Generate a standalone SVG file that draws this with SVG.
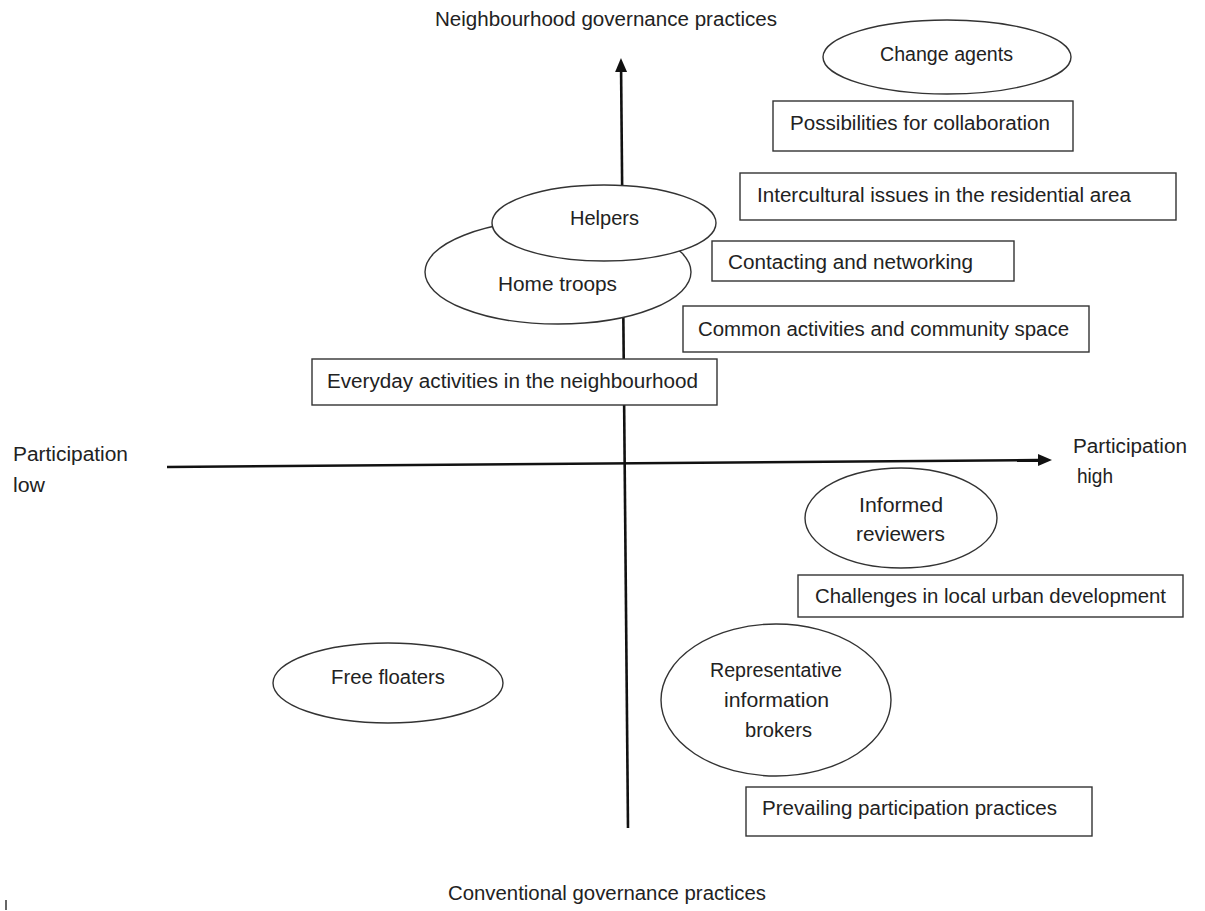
<svg xmlns="http://www.w3.org/2000/svg" width="1205" height="911" viewBox="0 0 1205 911">
<style>
  text { font-family: "Liberation Sans", Arial, sans-serif; font-size: 19.5px; fill: #222; }
  .shape { fill: #fff; stroke: #333; stroke-width: 1.4; }
  .axis { stroke: #111; stroke-width: 2.6; fill: none; }
</style>
<defs>
  <marker id="arrow" markerUnits="userSpaceOnUse" markerWidth="15" markerHeight="13" viewBox="0 -6.5 15 13" refX="0" refY="0" orient="auto">
    <path d="M0,-6 L14,0 L0,6 z" fill="#111"/>
  </marker>
</defs>
<rect x="0" y="0" width="1205" height="911" fill="#fff"/>

<g id="connectors">
  <line class="axis" x1="628" y1="828" x2="621.1" y2="72" marker-end="url(#arrow)"/>
  <line class="axis" x1="167" y1="467" x2="1038" y2="460.1" marker-end="url(#arrow)"/>
</g>

<g id="axis-labels">
  <text x="435" y="26" textLength="342" lengthAdjust="spacingAndGlyphs">Neighbourhood governance practices</text>
  <text x="448" y="900" textLength="318" lengthAdjust="spacingAndGlyphs">Conventional governance practices</text>
  <text x="13" y="461" textLength="115" lengthAdjust="spacingAndGlyphs">Participation</text>
  <text x="13" y="492" textLength="32" lengthAdjust="spacingAndGlyphs">low</text>
  <text x="1073" y="453" textLength="114" lengthAdjust="spacingAndGlyphs">Participation</text>
  <text x="1077" y="483" textLength="36" lengthAdjust="spacingAndGlyphs">high</text>
</g>

<g id="change-agents">
  <ellipse class="shape" cx="947" cy="57" rx="124" ry="37"/>
  <text x="880" y="61" textLength="133" lengthAdjust="spacingAndGlyphs">Change agents</text>
</g>
<g id="possibilities">
  <rect class="shape" x="773" y="101" width="300" height="50"/>
  <text x="790" y="130" textLength="260" lengthAdjust="spacingAndGlyphs">Possibilities for collaboration</text>
</g>
<g id="intercultural">
  <rect class="shape" x="740" y="173" width="436" height="47"/>
  <text x="757" y="202" textLength="374" lengthAdjust="spacingAndGlyphs">Intercultural issues in the residential area</text>
</g>
<g id="home-troops">
  <ellipse class="shape" cx="558" cy="272" rx="133" ry="52"/>
  <text x="498" y="291" textLength="119" lengthAdjust="spacingAndGlyphs">Home troops</text>
</g>
<g id="helpers">
  <ellipse class="shape" cx="604" cy="223" rx="112" ry="38"/>
  <text x="570" y="225" textLength="69" lengthAdjust="spacingAndGlyphs">Helpers</text>
</g>
<g id="contacting">
  <rect class="shape" x="712" y="241" width="302" height="40"/>
  <text x="728" y="269" textLength="245" lengthAdjust="spacingAndGlyphs">Contacting and networking</text>
</g>
<g id="common">
  <rect class="shape" x="683" y="306" width="406" height="46"/>
  <text x="698" y="336" textLength="371" lengthAdjust="spacingAndGlyphs">Common activities and community space</text>
</g>
<g id="everyday">
  <rect class="shape" x="312" y="359" width="405" height="46"/>
  <text x="327" y="388" textLength="371" lengthAdjust="spacingAndGlyphs">Everyday activities in the neighbourhood</text>
</g>
<g id="informed-reviewers">
  <ellipse class="shape" cx="901" cy="518" rx="96" ry="50"/>
  <text x="859" y="512" textLength="84" lengthAdjust="spacingAndGlyphs">Informed</text>
  <text x="856" y="541" textLength="89" lengthAdjust="spacingAndGlyphs">reviewers</text>
</g>
<g id="challenges">
  <rect class="shape" x="798" y="575" width="385" height="42"/>
  <text x="815" y="603" textLength="351" lengthAdjust="spacingAndGlyphs">Challenges in local urban development</text>
</g>
<g id="free-floaters">
  <ellipse class="shape" cx="388" cy="683" rx="115" ry="40"/>
  <text x="331" y="684" textLength="114" lengthAdjust="spacingAndGlyphs">Free floaters</text>
</g>
<g id="representative-brokers">
  <ellipse class="shape" cx="776" cy="700" rx="115" ry="76"/>
  <text x="710" y="677" textLength="132" lengthAdjust="spacingAndGlyphs">Representative</text>
  <text x="724" y="707" textLength="105" lengthAdjust="spacingAndGlyphs">information</text>
  <text x="745" y="737" textLength="67" lengthAdjust="spacingAndGlyphs">brokers</text>
</g>
<g id="prevailing">
  <rect class="shape" x="746" y="787" width="346" height="49"/>
  <text x="762" y="815" textLength="295" lengthAdjust="spacingAndGlyphs">Prevailing participation practices</text>
</g>
<line x1="6" y1="900" x2="6" y2="910" stroke="#333" stroke-width="1.5"/>
</svg>
